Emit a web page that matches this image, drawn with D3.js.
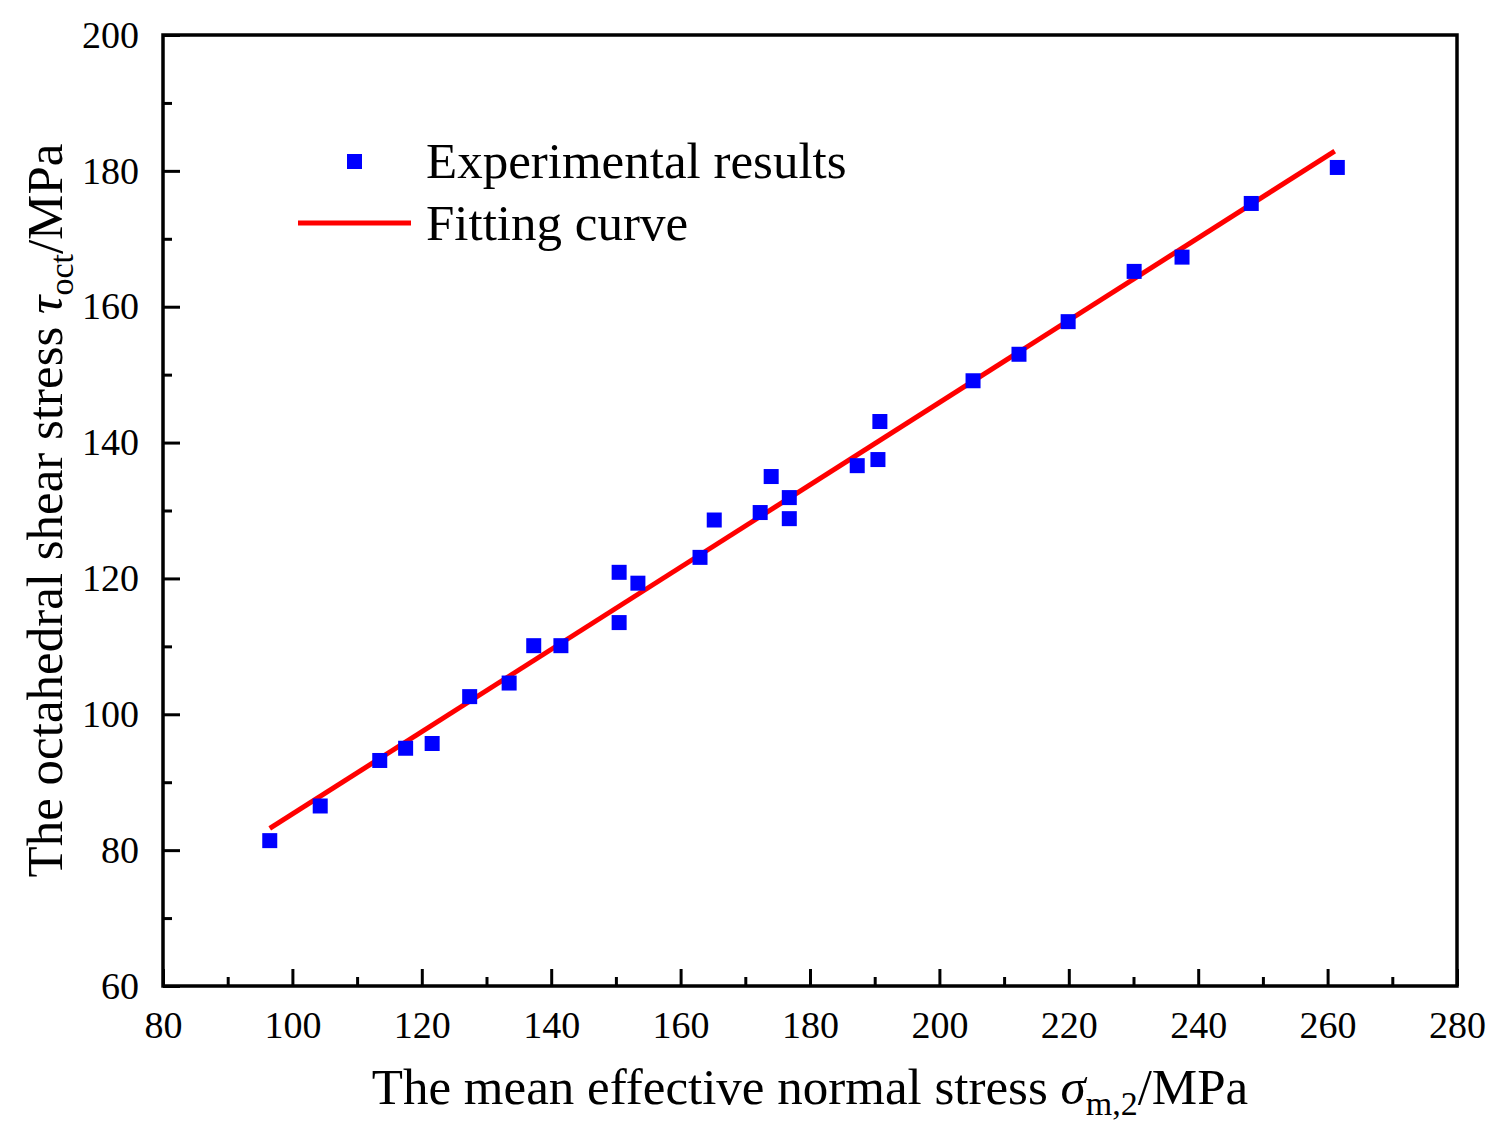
<!DOCTYPE html>
<html>
<head>
<meta charset="utf-8">
<script src="https://cdn.jsdelivr.net/npm/d3@7"></script>
<style>
  body { margin: 0; background: #fff; }
  text { font-family: "Liberation Serif", "Times New Roman", serif; fill: #000; }
</style>
</head>
<body>
<div id="chart"></div>
<script>
// experimental points (mean effective normal stress, octahedral shear stress)
var sigmaM = [96.5, 104.3, 113.5, 117.5, 121.6, 127.4, 133.5, 137.3, 141.5, 150.5, 150.5, 153.4,
    163.0, 165.2, 172.3, 174.0, 176.8, 176.8, 187.3, 190.5, 190.8, 205.2, 212.3, 219.9,
    230.1, 237.5, 248.2, 261.5];
var tauOct = [81.4, 86.5, 93.2, 95.0, 95.7, 102.6, 104.6, 110.1, 110.1, 120.9, 113.5, 119.3,
    123.1, 128.6, 129.7, 135.0, 131.9, 128.8, 136.6, 137.5, 143.1, 149.1, 153.0, 157.8,
    165.2, 167.3, 175.2, 180.5];

// fitting line end points
var fitX = [96.5, 261.1];
var fitY = [83.2, 182.9];

var xTicks = [80, 100, 120, 140, 160, 180, 200, 220, 240, 260, 280];
var xMinor = [90, 110, 130, 150, 170, 190, 210, 230, 250, 270];
var yTicks = [60, 80, 100, 120, 140, 160, 180, 200];
var yMinor = [70, 90, 110, 130, 150, 170, 190];

var width = 1505;
var height = 1137;

var margins = {
    top: 35,
    right: 48,
    bottom: 151,
    left: 163
}

var chartWidth = width - margins.left - margins.right;
var chartHeight = height - margins.top - margins.bottom;

var svg = d3.select("#chart").append("svg")
    .attr("width", width)
    .attr("height", height);

var chartGroup = svg.append("g")
    .attr("transform", `translate(${margins.left}, ${margins.top})`);

var xScale = d3.scaleLinear().domain([80, 280]).range([0, chartWidth]);
var yScale = d3.scaleLinear().domain([60, 200]).range([chartHeight, 0]);

// ticks (pointing inward)
var bottomAxis = d3.axisBottom(xScale).tickValues(xTicks).tickSizeInner(-17).tickSizeOuter(0).tickPadding(25);
var bottomMinor = d3.axisBottom(xScale).tickValues(xMinor).tickSizeInner(-9).tickSizeOuter(0).tickFormat("");
var leftAxis = d3.axisLeft(yScale).tickValues(yTicks).tickSizeInner(-17).tickSizeOuter(0).tickPadding(24);
var leftMinor = d3.axisLeft(yScale).tickValues(yMinor).tickSizeInner(-9).tickSizeOuter(0).tickFormat("");

function styleAxis(g) {
    g.select(".domain").remove();
    g.selectAll("line").attr("stroke", "#000").attr("stroke-width", 3);
    g.selectAll("text").style("font-size", "38px").attr("font-family", "Liberation Serif");
}

chartGroup.append("g")
    .attr("transform", `translate(0, ${chartHeight})`)
    .call(bottomAxis).call(styleAxis);
chartGroup.append("g")
    .attr("transform", `translate(0, ${chartHeight})`)
    .call(bottomMinor).call(styleAxis);
chartGroup.append("g").call(leftAxis).call(styleAxis);
chartGroup.append("g").call(leftMinor).call(styleAxis);

// frame
chartGroup.append("rect")
    .attr("x", 0)
    .attr("y", 0)
    .attr("width", chartWidth)
    .attr("height", chartHeight)
    .attr("fill", "none")
    .attr("stroke", "#000")
    .attr("stroke-width", 3.5);

// fitting curve
var fitData = fitX.map((d, i) => ({ x: d, y: fitY[i] }));
var line = d3.line().x(d => xScale(d.x)).y(d => yScale(d.y));
chartGroup.append("path")
    .datum(fitData)
    .attr("d", line)
    .attr("fill", "none")
    .attr("stroke", "#ff0000")
    .attr("stroke-width", 5);

// experimental points
var pts = sigmaM.map((d, i) => ({ x: d, y: tauOct[i] }));
var size = 15;
chartGroup.selectAll(".pt")
    .data(pts)
    .enter()
    .append("rect")
    .attr("class", "pt")
    .attr("x", d => xScale(d.x) - size / 2)
    .attr("y", d => yScale(d.y) - size / 2)
    .attr("width", size)
    .attr("height", size)
    .attr("fill", "#0000ff");

// legend
var legend = svg.append("g");
legend.append("rect")
    .attr("x", 347)
    .attr("y", 154)
    .attr("width", size)
    .attr("height", size)
    .attr("fill", "#0000ff");
legend.append("text")
    .attr("x", 426)
    .attr("y", 178)
    .style("font-size", "51px")
    .text("Experimental results");
legend.append("line")
    .attr("x1", 298)
    .attr("x2", 411)
    .attr("y1", 223)
    .attr("y2", 223)
    .attr("stroke", "#ff0000")
    .attr("stroke-width", 5);
legend.append("text")
    .attr("x", 426)
    .attr("y", 240)
    .style("font-size", "51px")
    .text("Fitting curve");

// x axis title
var xTitle = svg.append("text")
    .attr("x", margins.left + chartWidth / 2)
    .attr("y", 1104)
    .attr("text-anchor", "middle")
    .style("font-size", "51px");
xTitle.append("tspan").text("The mean effective normal stress ");
xTitle.append("tspan").attr("font-style", "italic").text("σ");
xTitle.append("tspan").attr("dy", 11).style("font-size", "34px").text("m,2");
xTitle.append("tspan").attr("dy", -11).text("/MPa");

// y axis title
var yTitle = svg.append("text")
    .attr("transform", `translate(62, ${margins.top + chartHeight / 2}) rotate(-90)`)
    .attr("text-anchor", "middle")
    .style("font-size", "51px");
yTitle.append("tspan").text("The octahedral shear stress ");
yTitle.append("tspan").attr("font-style", "italic").text("τ");
yTitle.append("tspan").attr("dy", 11).style("font-size", "34px").text("oct");
yTitle.append("tspan").attr("dy", -11).text("/MPa");
</script>
</body>
</html>
